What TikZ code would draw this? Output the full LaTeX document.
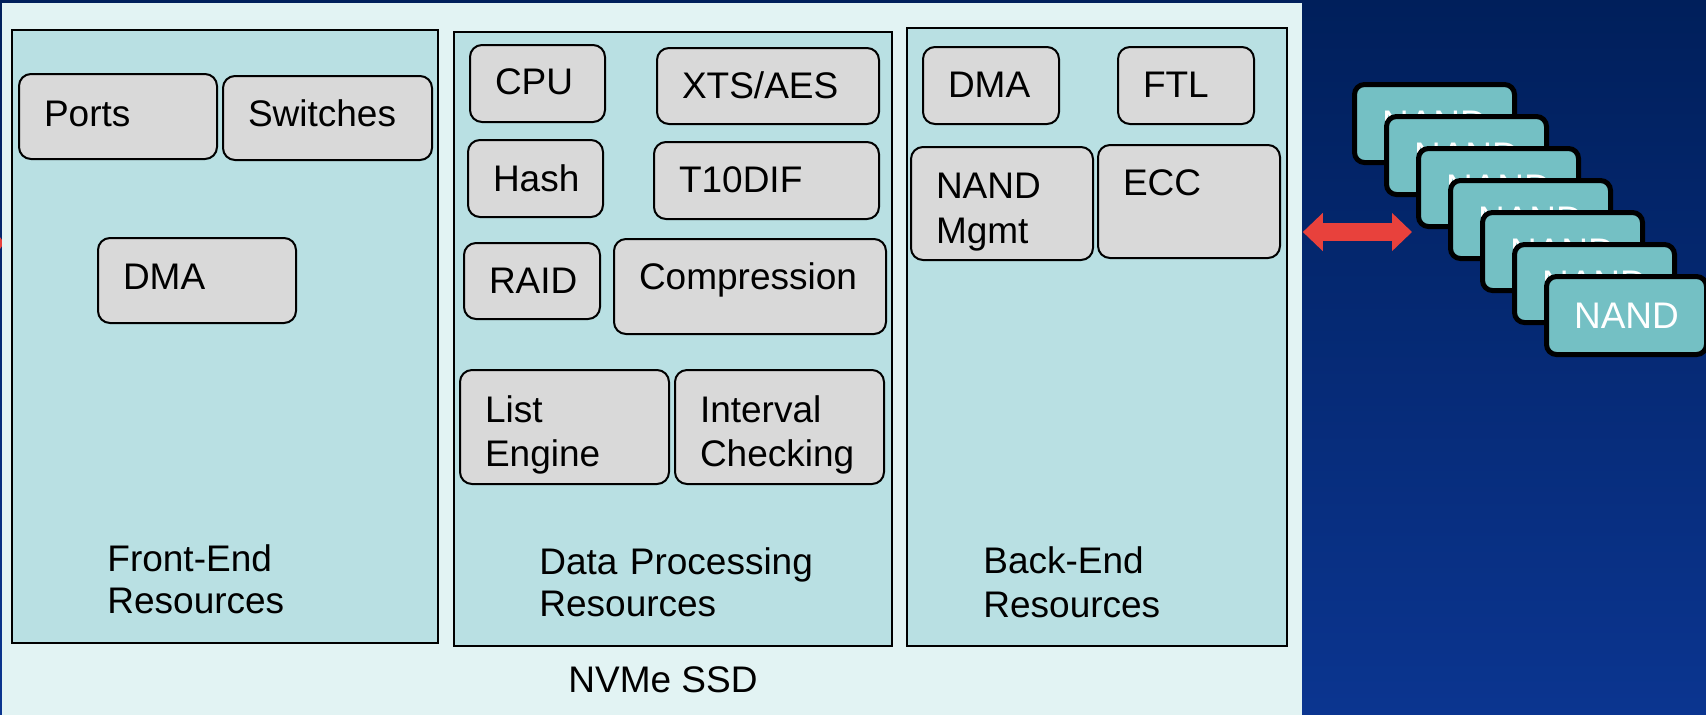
\documentclass[tikz,border=0pt]{standalone}
\usepackage{fontspec}
\setmainfont{Liberation Sans}
\usetikzlibrary{arrows.meta}
\definecolor{bgtop}{HTML}{001F5B}
\definecolor{bgbot}{HTML}{0B3590}
\definecolor{ssdfill}{HTML}{E2F3F3}
\definecolor{panelfill}{HTML}{B9E0E3}
\definecolor{grayfill}{HTML}{D9D9D9}
\definecolor{nandfill}{HTML}{74C0C4}
\definecolor{arrowred}{HTML}{E8413C}
\begin{document}
\begin{tikzpicture}[x=0.5pt,y=-0.5pt,
  every node/.style={font=\fontsize{18.5pt}{22.5pt}\selectfont},
  panelbox/.style={draw=black, line width=0.8pt, fill=panelfill, anchor=north west, inner sep=0pt},
  graybox/.style={draw=black, line width=1pt, fill=grayfill, rounded corners=6pt, anchor=north west, inner xsep=12.5pt, inner ysep=0pt, align=left},
  nandbox/.style={draw=black, line width=2.5pt, fill=nandfill, rounded corners=5pt, minimum width=80pt, minimum height=39pt, inner sep=0pt, text=white},
  lbl/.style={anchor=base west, inner sep=0pt, align=left, text width=150pt},
  redarrow/.style={draw=arrowred, line width=9pt, {Triangle[length=10pt,width=18.5pt]}-{Triangle[length=10pt,width=18.5pt]}}
]
\useasboundingbox (0,0) rectangle (1706,714);
\clip (0,0) rectangle (1706,714);
\fill[top color=bgtop, bottom color=bgbot] (0,0) rectangle (1706,714);
\fill[arrowred] (0,237) -- (4,243) -- (0,249) -- cycle;

% SSD outer panel
\node[fill=ssdfill, anchor=north west, inner sep=0pt, minimum width=650pt, minimum height=360pt] (ssd) at (2,3) {};
\node[anchor=base west, inner sep=0pt] (ssdlbl) at (568,692) {NVMe SSD};

% resource panels
\node[panelbox, minimum width=213pt, minimum height=306.5pt] (front) at (11,29) {};
\node[panelbox, minimum width=219pt, minimum height=307pt] (data) at (453,31) {};
\node[panelbox, minimum width=190pt, minimum height=309pt] (back) at (906,27) {};

\node[lbl, font=\fontsize{18.5pt}{21pt}\selectfont] (frontlbl) at (107,571) {Front-End\\Resources};
\node[lbl, font=\fontsize{18.5pt}{21pt}\selectfont] (datalbl) at (539,574) {Data Processing\\Resources};
\node[lbl, font=\fontsize{18.5pt}{22pt}\selectfont] (backlbl) at (983,573) {Back-End\\Resources};

% front-end blocks
\node[graybox, text width=74pt, text height=26pt, text depth=16.5pt] (ports) at (18,73) {Ports};
\node[graybox, text width=79.5pt, text height=25pt, text depth=17pt] (switches) at (222,75) {Switches};
\node[graybox, text width=74pt, text height=25.5pt, text depth=17pt] (fdma) at (97,237) {DMA};

% data processing blocks
\node[graybox, text width=42.5pt, text height=24.5pt, text depth=14pt] (cpu) at (469,44) {CPU};
\node[graybox, text width=86pt, text height=25pt, text depth=13pt] (xts) at (656,47) {XTS/AES};
\node[graybox, text width=42.5pt, text height=25.5pt, text depth=13pt] (hash) at (467,139) {Hash};
\node[graybox, text width=87.5pt, text height=25pt, text depth=13.5pt] (t10) at (653,141) {T10DIF};
\node[graybox, text width=43pt, text height=25pt, text depth=13pt] (raid) at (463,242) {RAID};
\node[graybox, text width=111pt, text height=25pt, text depth=22.5pt] (comp) at (613,238) {Compression};
\node[graybox, text width=79.5pt, text height=26pt, text depth=31pt, font=\fontsize{18.5pt}{22pt}\selectfont] (list) at (459,369) {List\\Engine};
\node[graybox, text width=79.5pt, text height=26pt, text depth=31pt, font=\fontsize{18.5pt}{22pt}\selectfont] (interval) at (674,369) {Interval\\Checking};

% back-end blocks
\node[graybox, text width=43pt, text height=25pt, text depth=13.5pt] (bdma) at (922,46) {DMA};
\node[graybox, text width=43pt, text height=25pt, text depth=13.5pt] (ftl) at (1117,46) {FTL};
\node[graybox, text width=66pt, text height=25.5pt, text depth=31pt] (nandmgmt) at (910,146) {NAND\\Mgmt};
\node[graybox, text width=66pt, text height=25pt, text depth=31.5pt] (ecc) at (1097,144) {ECC};

% NAND stack
\foreach \i in {1,...,7} {
  \node[nandbox] (nand\i) at ({1434.5+32*(\i-1)},{123.5+32*(\i-1)}) {NAND};
}

% link
\coordinate (arrR) at (1412,232);
\draw[redarrow] (ssd.east |- arrR) -- (arrR);
\end{tikzpicture}
\end{document}
